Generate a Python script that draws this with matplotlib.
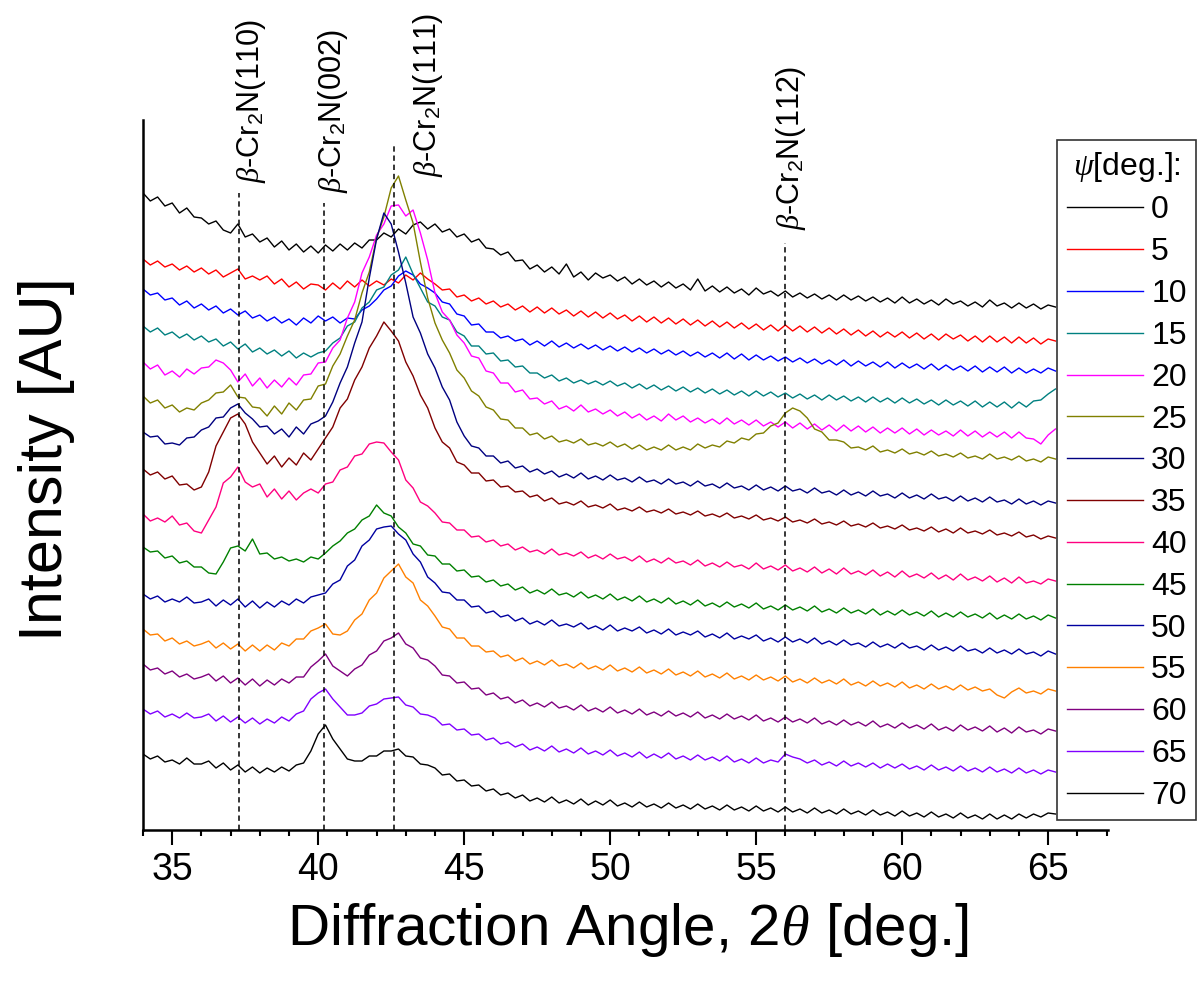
import matplotlib
matplotlib.use("Agg")
import matplotlib.pyplot as plt
from matplotlib.ticker import MultipleLocator

plt.rcParams['font.family'] = ['Liberation Sans', 'DejaVu Sans']
plt.rcParams['mathtext.fontset'] = 'custom'
plt.rcParams['mathtext.rm'] = 'Liberation Sans'
plt.rcParams['mathtext.it'] = 'Liberation Serif:italic'
plt.rcParams['mathtext.bf'] = 'Liberation Sans:bold'

# ---------------- data (2theta in deg, stacked intensities in AU) ----------------
two_theta = [34.0, 34.25, 34.5, 34.75, 35.0, 35.25, 35.5, 35.75,
             36.0, 36.25, 36.5, 36.75, 37.0, 37.25, 37.5, 37.75,
             38.0, 38.25, 38.5, 38.75, 39.0, 39.25, 39.5, 39.75,
             40.0, 40.25, 40.5, 40.75, 41.0, 41.25, 41.5, 41.75,
             42.0, 42.25, 42.5, 42.75, 43.0, 43.25, 43.5, 43.75,
             44.0, 44.25, 44.5, 44.75, 45.0, 45.25, 45.5, 45.75,
             46.0, 46.25, 46.5, 46.75, 47.0, 47.25, 47.5, 47.75,
             48.0, 48.25, 48.5, 48.75, 49.0, 49.25, 49.5, 49.75,
             50.0, 50.25, 50.5, 50.75, 51.0, 51.25, 51.5, 51.75,
             52.0, 52.25, 52.5, 52.75, 53.0, 53.25, 53.5, 53.75,
             54.0, 54.25, 54.5, 54.75, 55.0, 55.25, 55.5, 55.75,
             56.0, 56.25, 56.5, 56.75, 57.0, 57.25, 57.5, 57.75,
             58.0, 58.25, 58.5, 58.75, 59.0, 59.25, 59.5, 59.75,
             60.0, 60.25, 60.5, 60.75, 61.0, 61.25, 61.5, 61.75,
             62.0, 62.25, 62.5, 62.75, 63.0, 63.25, 63.5, 63.75,
             64.0, 64.25, 64.5, 64.75, 65.0, 65.25]

I_psi0 = [637, 629, 633, 624, 627, 617, 622, 613,
          612, 606, 609, 600, 597, 606, 593, 596,
          588, 592, 583, 589, 580, 586, 578, 584,
          577, 585, 579, 586, 580, 587, 582, 590,
          590, 597, 593, 601, 596, 605, 608, 601,
          606, 598, 601, 593, 596, 588, 591, 582,
          581, 575, 578, 569, 570, 561, 565, 558,
          563, 556, 566, 553, 558, 550, 557, 552,
          555, 549, 553, 546, 551, 545, 549, 543,
          548, 542, 546, 540, 551, 539, 544, 538,
          543, 537, 541, 535, 542, 536, 539, 534,
          539, 533, 537, 532, 536, 531, 535, 530,
          535, 530, 534, 529, 533, 528, 532, 527,
          533, 527, 531, 526, 530, 525, 531, 526,
          529, 524, 528, 523, 530, 524, 527, 522,
          527, 522, 526, 521, 525, 523]
I_psi5 = [571, 565, 569, 563, 566, 560, 564, 558,
          562, 556, 560, 553, 557, 561, 551, 554,
          550, 554, 546, 551, 543, 548, 541, 546,
          545, 540, 547, 541, 549, 543, 550, 544,
          549, 545, 551, 547, 555, 550, 557, 551,
          546, 540, 541, 533, 535, 529, 532, 526,
          529, 523, 526, 520, 524, 518, 523, 517,
          522, 516, 520, 514, 519, 513, 518, 512,
          517, 511, 515, 509, 514, 508, 513, 507,
          512, 506, 511, 505, 510, 504, 509, 503,
          508, 502, 507, 501, 506, 500, 505, 499,
          505, 499, 504, 498, 503, 497, 502, 496,
          501, 495, 500, 494, 499, 493, 498, 493,
          498, 492, 497, 491, 496, 490, 496, 491,
          495, 489, 494, 488, 494, 488, 493, 487,
          493, 487, 492, 486, 491, 489]
I_psi10 = [541, 535, 537, 530, 532, 525, 529, 522,
           526, 520, 524, 517, 521, 515, 519, 512,
           515, 509, 513, 507, 511, 505, 512, 507,
           514, 509, 513, 507, 512, 511, 520, 524,
           531, 540, 544, 554, 559, 555, 546, 542,
           537, 528, 526, 516, 514, 505, 506, 498,
           498, 492, 494, 489, 491, 485, 489, 484,
           489, 483, 487, 482, 486, 481, 485, 480,
           484, 479, 483, 478, 482, 477, 481, 476,
           480, 475, 479, 474, 478, 473, 477, 472,
           477, 471, 476, 470, 475, 470, 474, 469,
           473, 468, 472, 467, 471, 466, 470, 465,
           470, 464, 469, 464, 468, 463, 468, 462,
           467, 462, 466, 461, 466, 460, 465, 460,
           464, 459, 464, 458, 463, 458, 463, 457,
           462, 457, 461, 457, 462, 459]
I_psi15 = [504, 498, 502, 495, 498, 492, 496, 490,
           494, 488, 491, 484, 488, 481, 486, 478,
           482, 476, 480, 474, 479, 472, 477, 473,
           477, 479, 487, 492, 504, 508, 522, 528,
           540, 543, 555, 560, 573, 556, 542, 528,
           524, 513, 510, 498, 494, 484, 484, 476,
           477, 469, 470, 463, 464, 457, 457, 452,
           455, 449, 452, 447, 450, 446, 449, 445,
           449, 444, 447, 442, 446, 441, 445, 440,
           444, 439, 443, 438, 442, 437, 441, 436,
           440, 435, 439, 434, 439, 434, 438, 433,
           437, 432, 436, 431, 435, 430, 435, 430,
           434, 429, 433, 428, 433, 428, 432, 427,
           432, 427, 431, 426, 430, 425, 430, 425,
           429, 424, 429, 423, 428, 423, 428, 422,
           428, 423, 429, 430, 436, 441]
I_psi20 = [468, 461, 465, 455, 459, 453, 461, 456,
           462, 463, 470, 467, 460, 448, 456, 444,
           452, 442, 450, 443, 452, 445, 455, 456,
           467, 468, 482, 490, 512, 528, 557, 573,
           595, 606, 624, 625, 614, 620, 597, 570,
           537, 518, 510, 495, 487, 474, 472, 459,
           457, 447, 447, 438, 440, 431, 432, 426,
           429, 421, 424, 419, 425, 418, 421, 416,
           420, 414, 418, 412, 416, 410, 414, 409,
           416, 410, 414, 408, 412, 407, 411, 406,
           412, 406, 410, 405, 410, 404, 408, 403,
           408, 402, 407, 401, 406, 400, 405, 399,
           405, 399, 404, 398, 403, 397, 402, 397,
           402, 396, 401, 395, 400, 395, 399, 394,
           400, 394, 399, 393, 398, 393, 398, 392,
           398, 392, 391, 386, 395, 401]
I_psi25 = [434, 427, 430, 422, 425, 418, 422, 420,
           427, 430, 437, 438, 445, 433, 432, 423,
           422, 414, 424, 416, 427, 420, 430, 431,
           444, 446, 464, 476, 494, 510, 537, 558,
           592, 613, 642, 654, 630, 607, 568, 532,
           507, 490, 477, 460, 452, 439, 434, 423,
           420, 411, 410, 402, 402, 395, 397, 391,
           394, 388, 390, 387, 391, 385, 387, 384,
           388, 383, 386, 381, 385, 380, 383, 380,
           385, 380, 383, 380, 386, 382, 385, 383,
           389, 387, 392, 390, 396, 397, 404, 407,
           417, 422, 419, 412, 401, 398, 390, 390,
           388, 382, 383, 380, 384, 378, 380, 377,
           381, 376, 378, 375, 379, 374, 376, 373,
           377, 372, 374, 371, 376, 371, 373, 370,
           374, 369, 371, 368, 373, 371]
I_psi30 = [398, 393, 394, 386, 387, 385, 392, 393,
           400, 403, 412, 413, 422, 426, 417, 411,
           403, 404, 396, 401, 393, 403, 396, 406,
           409, 414, 428, 447, 463, 487, 508, 552,
           591, 617, 606, 578, 547, 513, 497, 476,
           462, 443, 430, 408, 394, 384, 382, 374,
           374, 367, 369, 362, 364, 358, 361, 356,
           359, 353, 356, 352, 357, 351, 354, 350,
           355, 350, 352, 348, 353, 348, 350, 346,
           351, 346, 348, 344, 349, 344, 346, 342,
           347, 342, 344, 340, 345, 340, 343, 339,
           344, 339, 341, 337, 342, 337, 339, 335,
           340, 335, 338, 334, 339, 334, 336, 332,
           337, 332, 335, 331, 336, 331, 333, 329,
           334, 329, 332, 328, 333, 328, 330, 326,
           331, 326, 329, 325, 329, 327]
I_psi35 = [361, 355, 358, 351, 354, 345, 346, 340,
           343, 358, 384, 398, 412, 416, 406, 388,
           377, 366, 374, 363, 372, 365, 377, 370,
           381, 392, 403, 422, 431, 450, 463, 482,
           494, 508, 499, 489, 468, 454, 435, 422,
           402, 388, 382, 368, 365, 357, 357, 349,
           350, 343, 344, 338, 339, 333, 335, 329,
           332, 326, 328, 325, 329, 323, 325, 322,
           326, 320, 322, 319, 323, 318, 320, 317,
           321, 316, 318, 315, 319, 314, 316, 313,
           317, 312, 314, 311, 315, 310, 312, 309,
           313, 308, 310, 307, 311, 306, 308, 305,
           309, 304, 306, 303, 307, 302, 304, 301,
           305, 300, 302, 299, 303, 298, 301, 297,
           302, 297, 299, 296, 300, 295, 297, 294,
           298, 293, 295, 291, 294, 292]
I_psi40 = [316, 309, 312, 308, 314, 305, 307, 299,
           297, 310, 323, 347, 353, 363, 348, 343,
           346, 333, 341, 331, 339, 330, 337, 341,
           337, 346, 348, 360, 363, 374, 376, 386,
           388, 387, 378, 370, 350, 342, 328, 324,
           317, 308, 307, 300, 300, 293, 294, 288,
           290, 284, 286, 280, 283, 278, 280, 276,
           281, 275, 277, 274, 278, 272, 275, 271,
           276, 271, 273, 269, 274, 268, 271, 267,
           272, 267, 269, 265, 270, 264, 267, 263,
           268, 263, 265, 261, 267, 261, 264, 260,
           265, 259, 262, 258, 263, 257, 261, 256,
           262, 256, 259, 255, 260, 254, 258, 253,
           259, 253, 256, 252, 257, 251, 255, 250,
           256, 250, 253, 249, 254, 248, 252, 247,
           253, 247, 249, 246, 251, 249]
I_psi45 = [283, 278, 279, 272, 274, 267, 269, 263,
           263, 257, 256, 268, 282, 284, 279, 291,
           276, 277, 271, 273, 269, 271, 268, 273,
           271, 277, 284, 289, 297, 301, 310, 314,
           325, 317, 314, 303, 297, 286, 284, 275,
           274, 266, 266, 259, 260, 253, 254, 248,
           250, 244, 246, 240, 243, 237, 240, 236,
           241, 235, 237, 233, 238, 232, 235, 231,
           236, 230, 233, 229, 234, 228, 231, 227,
           232, 226, 229, 225, 230, 224, 227, 223,
           228, 223, 226, 222, 227, 221, 224, 220,
           225, 220, 223, 219, 224, 218, 221, 217,
           222, 217, 220, 216, 221, 215, 219, 215,
           220, 215, 218, 214, 219, 213, 217, 213,
           218, 213, 216, 212, 217, 211, 215, 211,
           216, 211, 214, 210, 215, 212]
I_psi50 = [236, 231, 234, 228, 231, 228, 233, 227,
           228, 231, 224, 230, 225, 231, 223, 229,
           222, 228, 223, 229, 225, 231, 227, 233,
           235, 237, 246, 250, 264, 270, 284, 290,
           301, 303, 304, 296, 290, 276, 268, 253,
           247, 238, 237, 230, 230, 223, 224, 217,
           219, 213, 215, 209, 212, 206, 209, 205,
           210, 204, 206, 203, 207, 201, 204, 200,
           205, 199, 202, 199, 203, 197, 200, 196,
           201, 195, 198, 195, 199, 193, 196, 192,
           197, 191, 194, 191, 195, 189, 192, 188,
           193, 188, 191, 187, 192, 186, 189, 185,
           190, 185, 187, 183, 188, 183, 186, 182,
           187, 182, 184, 180, 185, 180, 183, 179,
           184, 179, 181, 177, 182, 177, 180, 176,
           181, 176, 178, 174, 179, 176]
I_psi55 = [201, 195, 196, 189, 192, 186, 189, 184,
           186, 189, 182, 187, 181, 186, 179, 185,
           179, 185, 180, 187, 184, 191, 191, 199,
           202, 206, 196, 195, 199, 210, 216, 230,
           237, 252, 259, 266, 253, 247, 230, 224,
           214, 203, 201, 192, 192, 184, 184, 178,
           179, 173, 175, 169, 172, 166, 169, 165,
           170, 164, 166, 162, 167, 161, 164, 160,
           165, 159, 162, 158, 163, 157, 160, 156,
           161, 155, 158, 154, 159, 153, 156, 152,
           157, 151, 154, 150, 155, 150, 153, 149,
           154, 148, 151, 147, 152, 147, 150, 146,
           151, 145, 148, 144, 149, 144, 147, 143,
           148, 142, 145, 141, 146, 141, 144, 140,
           145, 140, 143, 139, 141, 135, 132, 138,
           142, 137, 139, 136, 141, 139]
I_psi60 = [166, 160, 162, 156, 159, 153, 156, 151,
           153, 156, 149, 154, 147, 152, 145, 151,
           144, 150, 145, 151, 147, 153, 153, 163,
           169, 176, 164, 159, 154, 161, 165, 175,
           179, 189, 192, 197, 186, 182, 172, 170,
           164, 155, 154, 147, 148, 141, 142, 135,
           137, 131, 133, 127, 130, 124, 127, 123,
           128, 122, 124, 120, 125, 119, 122, 118,
           123, 117, 120, 116, 121, 115, 118, 114,
           119, 114, 117, 113, 118, 112, 115, 111,
           116, 111, 114, 110, 115, 109, 112, 108,
           113, 108, 111, 107, 112, 106, 109, 105,
           110, 105, 108, 104, 109, 103, 106, 102,
           107, 102, 105, 101, 106, 100, 103, 99,
           105, 100, 103, 99, 104, 98, 102, 97,
           103, 98, 100, 96, 101, 99]
I_psi65 = [121, 116, 119, 113, 116, 112, 117, 112,
           113, 116, 109, 114, 108, 113, 107, 112,
           106, 111, 107, 113, 109, 116, 119, 131,
           137, 141, 131, 123, 115, 115, 117, 124,
           126, 131, 132, 133, 125, 123, 116, 115,
           112, 105, 106, 100, 101, 95, 96, 90,
           92, 86, 88, 83, 86, 80, 83, 79,
           84, 78, 81, 77, 82, 76, 79, 75,
           80, 74, 77, 73, 78, 72, 76, 72,
           77, 71, 74, 70, 75, 70, 73, 69,
           74, 68, 71, 67, 72, 67, 70, 68,
           76, 73, 71, 67, 70, 65, 68, 64,
           69, 64, 67, 63, 67, 62, 66, 62,
           66, 61, 64, 60, 65, 60, 63, 59,
           64, 59, 62, 58, 63, 58, 61, 57,
           62, 57, 60, 56, 60, 58]
I_psi70 = [76, 71, 74, 68, 70, 66, 72, 66,
           66, 69, 62, 67, 60, 65, 58, 63,
           57, 62, 58, 63, 59, 65, 67, 79,
           96, 105, 91, 81, 71, 69, 69, 74,
           74, 79, 79, 81, 74, 73, 66, 65,
           62, 55, 56, 49, 50, 44, 45, 39,
           41, 35, 37, 32, 35, 29, 32, 28,
           33, 27, 30, 26, 31, 25, 29, 25,
           30, 24, 27, 23, 28, 23, 26, 22,
           27, 22, 25, 21, 26, 21, 24, 20,
           25, 20, 23, 19, 24, 19, 22, 18,
           23, 18, 21, 17, 22, 17, 20, 16,
           21, 16, 19, 15, 20, 15, 18, 14,
           19, 14, 17, 13, 18, 13, 16, 12,
           17, 12, 15, 11, 16, 11, 15, 11,
           16, 12, 16, 13, 17, 16]

psi_labels = ['0', '5', '10', '15', '20', '25', '30', '35',
              '40', '45', '50', '55', '60', '65', '70']
series_colors = ['#000000', '#FF0000', '#0000FF', '#008080', '#FF00FF',
                 '#808000', '#000080', '#800000', '#FF0080', '#008000',
                 '#0000A0', '#FF8000', '#800080', '#8000FF', '#000000']

peak_names = [r'$\beta$-Cr$_2$N(110)', r'$\beta$-Cr$_2$N(002)',
              r'$\beta$-Cr$_2$N(111)', r'$\beta$-Cr$_2$N(112)']
peak_pos = [37.3, 40.2, 42.6, 56.0]
peak_line_top = [637, 627, 687, 587]

# ---------------- figure ----------------
W, H = 1201, 984
fig = plt.figure(figsize=(W / 100, H / 100), dpi=100)
ax = fig.add_axes([143 / W, (H - 830) / H, (1108 - 143) / W, 710 / H])

series = [I_psi0, I_psi5, I_psi10, I_psi15, I_psi20, I_psi25, I_psi30,
          I_psi35, I_psi40, I_psi45, I_psi50, I_psi55, I_psi60, I_psi65,
          I_psi70]
for s in series:
    assert len(s) == len(two_theta), len(s)

handles = []
for lab, col, vals in zip(psi_labels, series_colors, series):
    ln, = ax.plot(two_theta, vals, color=col, lw=1.0, label=lab)
    handles.append(ln)

ax.vlines(peak_pos, 0, peak_line_top, colors='black', linewidth=1.1,
          linestyles=(0, (3.5, 2.5)))

label_x = [37.7, 40.5, 43.77, 56.2]
label_y = [647, 637, 653, 600]
for name, lx, ly in zip(peak_names, label_x, label_y):
    ax.text(lx, ly, name, rotation=90, ha='center', va='bottom',
            fontsize=22, clip_on=False)

ax.set_xlim(34, 67.05)
ax.set_ylim(0, 710)
ax.spines['top'].set_visible(False)
ax.spines['right'].set_visible(False)
ax.spines['left'].set_linewidth(1.8)
ax.spines['bottom'].set_linewidth(1.8)
ax.set_yticks([])
ax.set_xticks([35, 40, 45, 50, 55, 60, 65])
ax.xaxis.set_minor_locator(MultipleLocator(1))
ax.tick_params(axis='x', which='major', direction='out', length=11,
               width=1.5, labelsize=27, pad=5)
ax.tick_params(axis='x', which='minor', direction='out', length=4,
               width=1.5)

fig.text(628 / W, 1 - 930 / H, r'Diffraction Angle, $\mathit{2\theta}$ [deg.]',
         ha='center', va='center', fontsize=42)
fig.text(47 / W, 1 - 459 / H, 'Intensity [AU]', rotation=90,
         ha='center', va='center', fontsize=44)

leg = ax.legend(handles=handles, loc='upper left',
                bbox_to_anchor=(1057 / W, 1 - 140 / H),
                bbox_transform=fig.transFigure, borderaxespad=0,
                fontsize=23, title=r'$\psi$[deg.]:', title_fontsize=23,
                handlelength=2.4, handletextpad=0.25, labelspacing=0.37,
                borderpad=0.3, frameon=True, fancybox=False,
                edgecolor='#333333', framealpha=1)
leg.get_frame().set_linewidth(1.2)

fig.savefig('out.png', dpi=100)
